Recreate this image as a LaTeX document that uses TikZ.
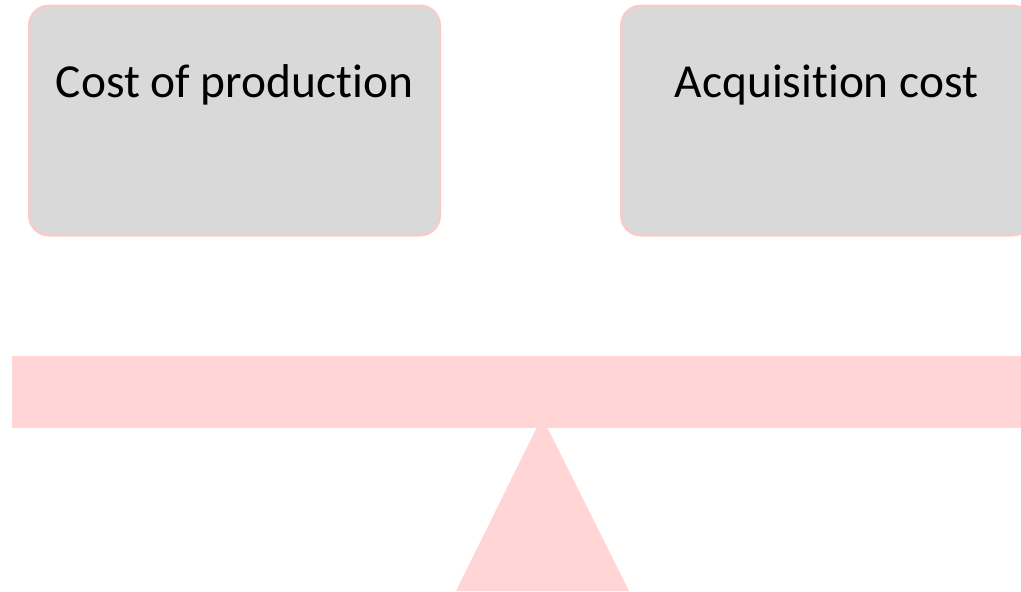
\documentclass[tikz,border=0pt]{standalone}
\usepackage{fontspec}
\setmainfont[Ligatures=NoCommon]{Carlito}
\definecolor{boxfill}{RGB}{217,217,217}
\definecolor{boxedge}{RGB}{255,200,200}
\definecolor{beam}{RGB}{255,213,213}
\begin{document}
\begin{tikzpicture}[x=0.5pt,y=-0.5pt,
  costbox/.style={draw=boxedge,line width=1pt,fill=boxfill,rounded corners=10pt,
    minimum width=205.5pt,minimum height=115pt,inner sep=0pt},
  costlabel/.style={anchor=base,font=\fontsize{23.7pt}{28pt}\selectfont,inner sep=0pt},
  beamstyle/.style={fill=beam,draw=none}]
  \useasboundingbox (0,0) rectangle (1021,591);
  \clip (0,0) rectangle (1021,591);
  % two cost boxes
  \node[costbox] (prod) at (234.5,120.5) {};
  \node[costbox] (acq) at (826.5,120.5) {};
  \node[costlabel] (prodtext) at (234.5,97) {Cost of production};
  \node[costlabel] (acqtext) at (826.5,97) {Acquisition cost};
  % balance beam and fulcrum
  \node[beamstyle,minimum width=515pt,minimum height=36pt,inner sep=0pt,anchor=north west] (beambar) at (12,356) {};
  \coordinate (apex) at (542,417);
  \coordinate (baseL) at (456,591);
  \coordinate (baseR) at (629,591);
  \fill[beam] (apex) -- (baseR) -- (baseL) -- cycle;
\end{tikzpicture}
\end{document}
